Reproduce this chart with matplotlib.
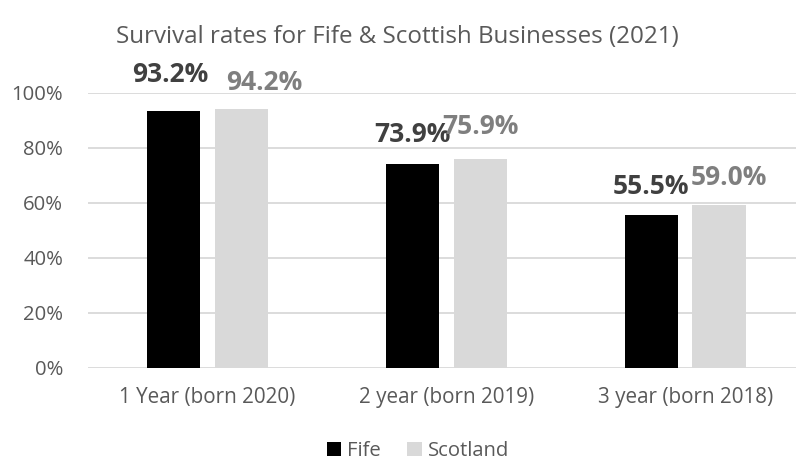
import matplotlib
matplotlib.use("Agg")
import matplotlib.pyplot as plt
from matplotlib.patches import Patch
from matplotlib.ticker import PercentFormatter
import numpy as np

plt.rcParams['font.family'] = ['Open Sans', 'DejaVu Sans']

categories = ["1 Year (born 2020)", "2 year (born 2019)", "3 year (born 2018)"]
fife = [93.2, 73.9, 55.5]
scotland = [94.2, 75.9, 59.0]
yticks = [0, 20, 40, 60, 80, 100]

# label nudges (pixels) relative to the centre of each bar top
fife_nudge = [(-3, 37), (0, 30), (0, 29)]
scot_nudge = [(23, 26), (0, 32), (10, 28)]

W, H = 796, 461
fig = plt.figure(figsize=(W / 100, H / 100), dpi=100)
ax = fig.add_axes([88 / W, 93.3 / H, (804.5 - 88) / W, 275 / H])

x = np.arange(len(categories))
bw = 0.222
off = 0.142
ax.bar(x - off, fife, width=bw, color="#000000", zorder=3, label="Fife")
ax.bar(x + off, scotland, width=bw, color="#d9d9d9", zorder=3, label="Scotland")

px = 0.72  # points per pixel at 100 dpi
for xi, v, (dx, dy) in zip(x - off, fife, fife_nudge):
    ax.annotate(f"{v:.1f}%", (xi, v), xytext=(dx * px, dy * px), textcoords="offset points",
                ha="center", va="center", fontsize=19, fontweight="bold", color="#404040")
for xi, v, (dx, dy) in zip(x + off, scotland, scot_nudge):
    ax.annotate(f"{v:.1f}%", (xi, v), xytext=(dx * px, dy * px), textcoords="offset points",
                ha="center", va="center", fontsize=19, fontweight="bold", color="#7f7f7f")

ax.set_xlim(-0.5, len(categories) - 0.5)
ax.set_ylim(0, 100)
ax.set_yticks(yticks)
ax.yaxis.set_major_formatter(PercentFormatter(decimals=0))
ax.set_xticks(x)
ax.set_xticklabels(categories)
ax.tick_params(axis="y", length=0, pad=18, labelsize=14.6, labelcolor="#595959")
ax.tick_params(axis="x", length=0, pad=14, labelsize=14.9, labelcolor="#595959")
ax.grid(axis="y", color="#d9d9d9", linewidth=1.3, zorder=0)
for s in ax.spines.values():
    s.set_visible(False)

fig.text(397 / W, 1 - 37 / H, "Survival rates for Fife & Scottish Businesses (2021)",
         ha="center", va="center", fontsize=17.4, color="#595959")

handles = [Patch(facecolor="#000000"), Patch(facecolor="#d9d9d9")]
fig.legend(handles, ["Fife", "Scotland"], loc="center", bbox_to_anchor=(418 / W, 1 - 451 / H),
           ncol=2, frameon=False, fontsize=14.6, labelcolor="#595959",
           handlelength=0.7, handleheight=0.7, handletextpad=0.3, columnspacing=1.3)

fig.savefig("out.png", dpi=100)
